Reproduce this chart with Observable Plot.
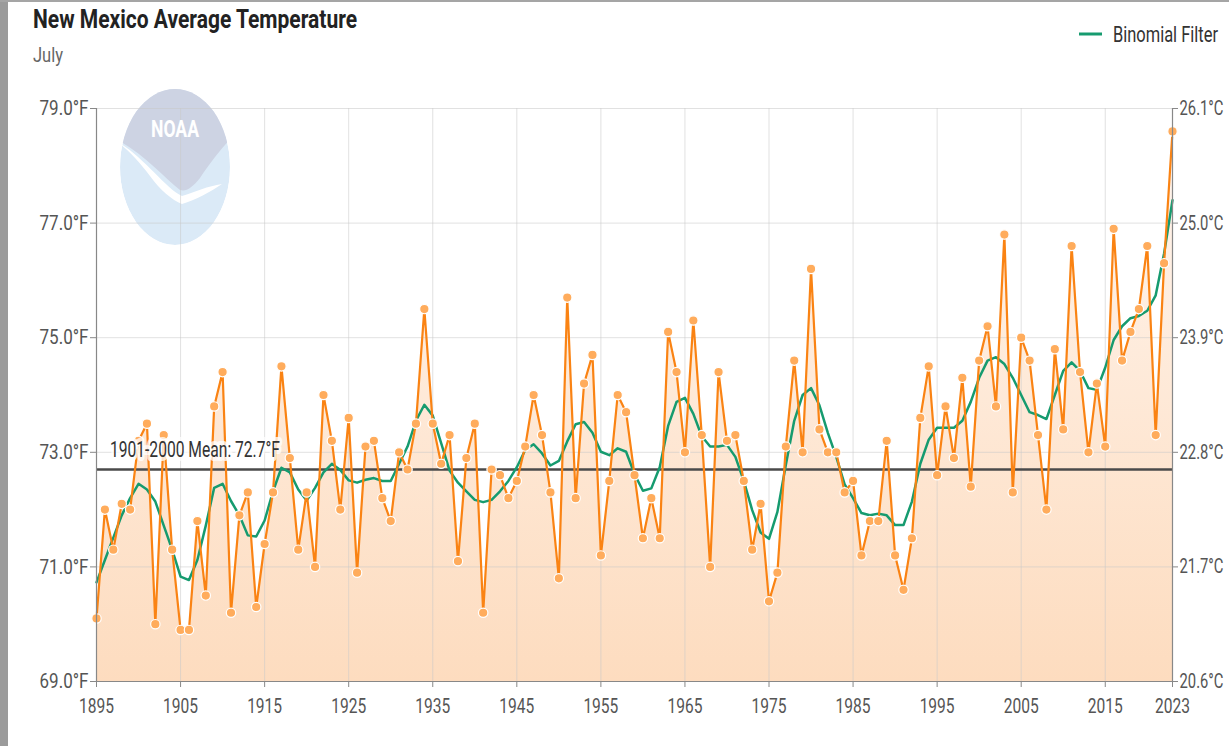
<!DOCTYPE html>
<html>
<head>
<meta charset="utf-8">
<script src="https://cdn.jsdelivr.net/npm/d3@7"></script>
<script src="https://cdn.jsdelivr.net/npm/@observablehq/plot@0.6"></script>
<style>
  html, body { margin: 0; padding: 0; background: #fff; }
  #wrap { position: relative; width: 1229px; height: 746px; overflow: hidden; background: #fff; }
  #leftbar { position: absolute; left: 0; top: 0; width: 8px; height: 746px; background: #9b9b9b; }
  #topbar { position: absolute; left: 0; top: 0; width: 1229px; height: 2px; background: #a5a5a5; }
  #deco { position: absolute; left: 0; top: 0; }
  #chart { position: absolute; left: 0; top: 0; }
  #texts { position: absolute; left: 0; top: 0; pointer-events: none; }
</style>
</head>
<body>
<div id="wrap">
  <svg id="deco" width="1229" height="746">
    <defs>
      <clipPath id="logoClip"><ellipse cx="175" cy="167" rx="55" ry="78"></ellipse></clipPath>
    </defs>
    <g clip-path="url(#logoClip)">
      <ellipse cx="175" cy="167" rx="55" ry="78" fill="#dbeaf7"></ellipse>
      <path d="M 110,80 L 240,80 L 240,130 C 226,142 212,160 200,178 C 192,188 186,192 180,190 C 165,178 145,155 118,140 Z" fill="#cdd3e3"></path>
      <path d="M 118,142 C 145,158 165,188 182,196 C 195,192 208,186 222,184 C 210,192 196,200 182,204 C 172,200 160,190 150,176 C 140,162 128,150 118,142 Z" fill="#ffffff"></path>
    </g>
  </svg>
  <div id="chart"></div>
  <svg id="texts" width="1229" height="746">
    <text id="noaaTxt" x="175" y="137" text-anchor="middle" font-family="Roboto, sans-serif" font-weight="bold" font-size="24" fill="#ffffff">NOAA</text>
    <text id="titleTxt" x="33" y="28" font-family="Roboto, sans-serif" font-weight="bold" font-size="26" fill="#222">New Mexico Average Temperature</text>
    <text id="subTxt" x="33" y="62" font-family="Roboto, sans-serif" font-size="21" fill="#666">July</text>
    <line x1="1079" y1="34" x2="1102" y2="34" stroke="#169b6f" stroke-width="3"></line>
    <text id="legTxt" x="1113" y="42" font-family="Roboto, sans-serif" font-size="22" fill="#333">Binomial Filter</text>
  </svg>
  <div id="leftbar"></div>
  <div id="topbar"></div>
</div>
<script>
// ---- Data ----
const startYear = 1895;
const temps = [
  70.1, 72.0, 71.3, 72.1, 72.0, 73.2, 73.5, 70.0, 73.3, 71.3,   // 1895-1904
  69.9, 69.9, 71.8, 70.5, 73.8, 74.4, 70.2, 71.9, 72.3, 70.3,   // 1905-1914
  71.4, 72.3, 74.5, 72.9, 71.3, 72.3, 71.0, 74.0, 73.2, 72.0,   // 1915-1924
  73.6, 70.9, 73.1, 73.2, 72.2, 71.8, 73.0, 72.7, 73.5, 75.5,   // 1925-1934
  73.5, 72.8, 73.3, 71.1, 72.9, 73.5, 70.2, 72.7, 72.6, 72.2,   // 1935-1944
  72.5, 73.1, 74.0, 73.3, 72.3, 70.8, 75.7, 72.2, 74.2, 74.7,   // 1945-1954
  71.2, 72.5, 74.0, 73.7, 72.6, 71.5, 72.2, 71.5, 75.1, 74.4,   // 1955-1964
  73.0, 75.3, 73.3, 71.0, 74.4, 73.2, 73.3, 72.5, 71.3, 72.1,   // 1965-1974
  70.4, 70.9, 73.1, 74.6, 73.0, 76.2, 73.4, 73.0, 73.0, 72.3,   // 1975-1984
  72.5, 71.2, 71.8, 71.8, 73.2, 71.2, 70.6, 71.5, 73.6, 74.5,   // 1985-1994
  72.6, 73.8, 72.9, 74.3, 72.4, 74.6, 75.2, 73.8, 76.8, 72.3,   // 1995-2004
  75.0, 74.6, 73.3, 72.0, 74.8, 73.4, 76.6, 74.4, 73.0, 74.2,   // 2005-2014
  73.1, 76.9, 74.6, 75.1, 75.5, 76.6, 73.3, 76.3, 78.6          // 2015-2023
];
const filterVals = [
  70.73, 71.12, 71.51, 71.90, 72.20, 72.45, 72.35, 72.14, 71.72, 71.30,
  70.83, 70.77, 71.12, 71.72, 72.38, 72.45, 72.15, 71.90, 71.55, 71.53,
  71.81, 72.32, 72.73, 72.65, 72.35, 72.16, 72.38, 72.65, 72.80, 72.69,
  72.51, 72.47, 72.52, 72.55, 72.50, 72.50, 72.80, 73.10, 73.55, 73.83,
  73.64, 73.16, 72.68, 72.47, 72.32, 72.17, 72.13, 72.17, 72.32, 72.50,
  72.74, 73.04, 73.14, 72.98, 72.77, 72.85, 73.19, 73.49, 73.53, 73.34,
  73.01, 72.95, 73.07, 73.01, 72.62, 72.33, 72.37, 72.74, 73.46, 73.88,
  73.95, 73.67, 73.28, 73.10, 73.10, 73.13, 72.92, 72.50, 71.99, 71.60,
  71.49, 71.96, 72.78, 73.55, 74.00, 74.12, 73.82, 73.34, 72.92, 72.44,
  72.20, 71.94, 71.90, 71.93, 71.90, 71.73, 71.73, 72.14, 72.80, 73.22,
  73.43, 73.43, 73.43, 73.55, 73.88, 74.30, 74.60, 74.66, 74.54, 74.30,
  74.00, 73.70, 73.65, 73.58, 74.00, 74.42, 74.57, 74.42, 74.12, 74.09,
  74.48, 74.96, 75.20, 75.34, 75.38, 75.47, 75.74, 76.47, 77.40
];
const meanValue = 72.7;
const meanLabel = "1901-2000 Mean: 72.7°F";
const fTicks = [69, 71, 73, 75, 77, 79];
const yearTicks = [1895, 1905, 1915, 1925, 1935, 1945, 1955, 1965, 1975, 1985, 1995, 2005, 2015, 2023];

const data = temps.map((t, i) => ({year: startYear + i, temp: t, filt: filterVals[i]}));
const yMin = 69, yMax = 79, xMin = 1895, xMax = 2023;

const FONT = 'Roboto, sans-serif';

const chart = Plot.plot({
  width: 1229,
  height: 746,
  marginTop: 108,
  marginBottom: 65,
  marginLeft: 96,
  marginRight: 57,
  style: {background: "transparent", fontFamily: FONT, fontSize: "21px", color: "#555", overflow: "visible"},
  x: {domain: [xMin, xMax]},
  y: {domain: [yMin, yMax]},
  marks: [
    Plot.areaY(data, {x: "year", y1: yMin, y2: "temp", fill: "url(#nmAreaGrad)"}),
    Plot.gridX(yearTicks, {stroke: "#c8c8c8", strokeOpacity: 0.55, strokeWidth: 1}),
    Plot.gridY(fTicks, {stroke: "#c8c8c8", strokeOpacity: 0.55, strokeWidth: 1}),
    Plot.ruleY([meanValue], {stroke: "#4a4a4a", strokeWidth: 2.5}),
    Plot.line(data, {x: "year", y: "filt", stroke: "#169b6f", strokeWidth: 2.5}),
    Plot.line(data, {x: "year", y: "temp", stroke: "#fa8313", strokeWidth: 2.2}),
    Plot.dot(data, {x: "year", y: "temp", r: 4.7, fill: "#ffac5c", stroke: "#ffffff", strokeWidth: 1.2}),
    Plot.text([meanLabel], {x: 1896.6, y: meanValue, dy: -20, text: d => d, textAnchor: "start",
      fill: "#333", stroke: "#ffffff", strokeWidth: 8, strokeOpacity: 0.75, fontSize: 22, fontFamily: FONT}),
    // axis lines
    Plot.ruleX([xMin], {stroke: "#888", strokeWidth: 1.2}),
    Plot.ruleX([xMax], {stroke: "#888", strokeWidth: 1.2}),
    Plot.ruleY([yMin], {stroke: "#888", strokeWidth: 1.2}),
    Plot.axisY(fTicks, {anchor: "left", tickSize: 6, tickPadding: 2, tickFormat: d => d.toFixed(1) + "°F",
      fontSize: 21, fill: "#555", stroke: "#888", label: null}),
    Plot.axisY(fTicks, {anchor: "right", tickSize: 5, tickPadding: 2, tickFormat: d => ((d - 32) * 5 / 9).toFixed(1) + "°C",
      fontSize: 20, fill: "#555", stroke: "#888", label: null}),
    Plot.axisX(yearTicks, {anchor: "bottom", tickSize: 6, tickPadding: 11, tickFormat: d => String(d),
      fontSize: 21, fill: "#555", stroke: "#888", label: null})
  ]
});

// gradient for area fill
const svg = d3.select(chart);
const defs = svg.insert("defs", ":first-child");
const grad = defs.append("linearGradient")
  .attr("id", "nmAreaGrad")
  .attr("gradientUnits", "userSpaceOnUse")
  .attr("x1", 0).attr("y1", 108).attr("x2", 0).attr("y2", 681);
grad.append("stop").attr("offset", "0%").attr("stop-color", "#fff6f0");
grad.append("stop").attr("offset", "100%").attr("stop-color", "#fddcbf");

document.getElementById("chart").appendChild(chart);

// Condense text horizontally to match the narrow lettering of the original
function condense() {
  const groups = [
    {test: s => /°F$/.test(s) && s !== meanLabel, ref: "79.0°F", target: 49},
    {test: s => /°C$/.test(s), ref: "26.1°C", target: 44},
    {test: s => /^\d{4}$/.test(s), ref: "1895", target: 35},
    {test: s => s === meanLabel, ref: meanLabel, target: 170}
  ];
  const all = Array.from(chart.querySelectorAll("text"));
  all.forEach(t => { t.removeAttribute("textLength"); t.removeAttribute("lengthAdjust"); });
  groups.forEach(g => {
    const els = all.filter(t => g.test(t.textContent));
    const refEl = els.find(t => t.textContent === g.ref) || els[0];
    if (!refEl) return;
    const ratio = g.target / refEl.getComputedTextLength();
    els.forEach(t => {
      const len = t.getComputedTextLength();
      t.setAttribute("textLength", (len * ratio).toFixed(2));
      t.setAttribute("lengthAdjust", "spacingAndGlyphs");
    });
  });
  const fixed = [["titleTxt", 324], ["subTxt", 30], ["legTxt", 105], ["noaaTxt", 48]];
  fixed.forEach(([id, w]) => {
    const el = document.getElementById(id);
    el.setAttribute("textLength", w);
    el.setAttribute("lengthAdjust", "spacingAndGlyphs");
  });
}
condense();
if (document.fonts && document.fonts.ready) document.fonts.ready.then(condense);
</script>
</body>
</html>
